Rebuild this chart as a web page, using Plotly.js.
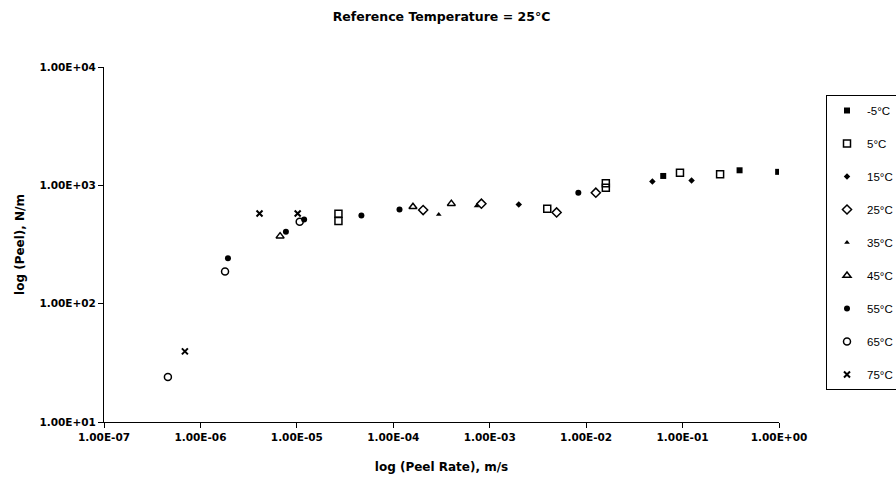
<!DOCTYPE html>
<html>
<head>
<meta charset="utf-8">
<script src="https://cdn.plot.ly/plotly-3.0.1.min.js"></script>
<style>html,body{margin:0;padding:0;background:#fff;}#chart{width:896px;height:484px;}</style>
</head>
<body>
<div id="chart"></div>
<script>
// Series names
const seriesNames = ["-5°C", "5°C", "15°C", "25°C", "35°C", "45°C", "55°C", "65°C", "75°C"];

// Reduced peel rate (m/s) and peel (N/m) for each temperature
const rate_m5 = [0.063, 0.39, 0.98];
const peel_m5 = [1200, 1340, 1300];

const rate_5 = [2.7e-5, 2.7e-5, 3.95e-3, 1.6e-2, 1.6e-2, 0.094, 0.245];
const peel_5 = [575, 500, 635, 955, 1040, 1280, 1240];

const rate_15 = [2.0e-3, 0.0486, 0.124];
const peel_15 = [690, 1075, 1100];

const rate_25 = [2.04e-4, 8.2e-4, 4.94e-3, 1.26e-2];
const peel_25 = [618, 700, 590, 867];

const rate_35 = [2.96e-4, 7.3e-4];
const peel_35 = [568, 668];

const rate_45 = [6.7e-6, 1.6e-4, 4.0e-4];
const peel_45 = [372, 660, 700];

const rate_55 = [1.93e-6, 7.7e-6, 1.19e-5, 4.67e-5, 1.16e-4, 8.3e-3];
const peel_55 = [242, 405, 515, 557, 626, 867];

const rate_65 = [4.6e-7, 1.8e-6, 1.07e-5];
const peel_65 = [24, 187, 492];

const rate_75 = [6.9e-7, 4.1e-6, 1.02e-5];
const peel_75 = [39.5, 579, 579];

// Axis ticks
const xTickVals = [1e-7, 1e-6, 1e-5, 1e-4, 1e-3, 1e-2, 1e-1, 1e0];
const xTickText = ["1.00E-07", "1.00E-06", "1.00E-05", "1.00E-04", "1.00E-03", "1.00E-02", "1.00E-01", "1.00E+00"];
const yTickVals = [1e1, 1e2, 1e3, 1e4];
const yTickText = ["1.00E+01", "1.00E+02", "1.00E+03", "1.00E+04"];

const xs = [rate_m5, rate_5, rate_15, rate_25, rate_35, rate_45, rate_55, rate_65, rate_75];
const ys = [peel_m5, peel_5, peel_15, peel_25, peel_35, peel_45, peel_55, peel_65, peel_75];

const markers = [
  {symbol: "square", size: 6, color: "#000"},
  {symbol: "square-open", size: 7, color: "#000", line: {width: 1.5, color: "#000"}},
  {symbol: "diamond", size: 5, color: "#000"},
  {symbol: "diamond-open", size: 7, color: "#000", line: {width: 1.5, color: "#000"}},
  {symbol: "triangle-up", size: 5, color: "#000"},
  {symbol: "triangle-up-open", size: 7, color: "#000", line: {width: 1.5, color: "#000"}},
  {symbol: "circle", size: 6, color: "#000"},
  {symbol: "circle-open", size: 7, color: "#000", line: {width: 1.5, color: "#000"}},
  {symbol: "x-thin-open", size: 6, color: "#000", line: {width: 2, color: "#000"}}
];

const traces = seriesNames.map((n, i) => ({
  type: "scatter",
  mode: "markers",
  name: n,
  legendgroup: "g" + i,
  x: xs[i],
  y: ys[i],
  marker: markers[i]
}));

const boldFont = "DejaVu Sans, Arial, sans-serif";
const legFont = "Liberation Sans, Arial, sans-serif";

const layout = {
  width: 896,
  height: 484,
  margin: {l: 104, r: 117, t: 67, b: 62},
  paper_bgcolor: "#fff",
  plot_bgcolor: "#fff",
  font: {family: boldFont, color: "#000", size: 12},
  title: {
    text: "<b>Reference Temperature = 25°C</b>",
    font: {family: boldFont, size: 12.5, color: "#000"},
    x: 0.5, xanchor: "center", xref: "paper",
    y: 0.975, yanchor: "top"
  },
  xaxis: {
    type: "log",
    range: [-7, 0],
    tickvals: xTickVals,
    ticktext: xTickText.map(t => "<b>" + t + "</b>"),
    ticks: "outside", ticklen: 5, tickcolor: "#000", tickwidth: 1,
    showgrid: false, zeroline: false,
    showline: true, linecolor: "#000", linewidth: 1,
    tickfont: {family: boldFont, size: 10.5},
    automargin: false,
    title: {text: "<b>log (Peel Rate), m/s</b>", font: {family: boldFont, size: 12}, standoff: 21}
  },
  yaxis: {
    type: "log",
    range: [1, 4],
    tickvals: yTickVals,
    ticktext: yTickText.map(t => "<b>" + t + "</b>"),
    ticks: "outside", ticklen: 5, tickcolor: "#000", tickwidth: 1,
    showgrid: false, zeroline: false,
    showline: true, linecolor: "#000", linewidth: 1,
    tickfont: {family: boldFont, size: 10.5},
    automargin: false,
    title: {text: "<b>log (Peel), N/m</b>", font: {family: boldFont, size: 12}, standoff: 12}
  },
  showlegend: true,
  legend: {
    xref: "container", yref: "paper",
    x: 826 / 896, xanchor: "left",
    y: (422 - 95) / 355, yanchor: "top",
    bordercolor: "#000", borderwidth: 1,
    bgcolor: "#fff",
    font: {family: legFont, size: 11.5, color: "#000"},
    tracegroupgap: 14,
    traceorder: "grouped",
    itemwidth: 30
  }
};

Plotly.newPlot("chart", traces, layout, {displayModeBar: false, staticPlot: true});
</script>
</body>
</html>
